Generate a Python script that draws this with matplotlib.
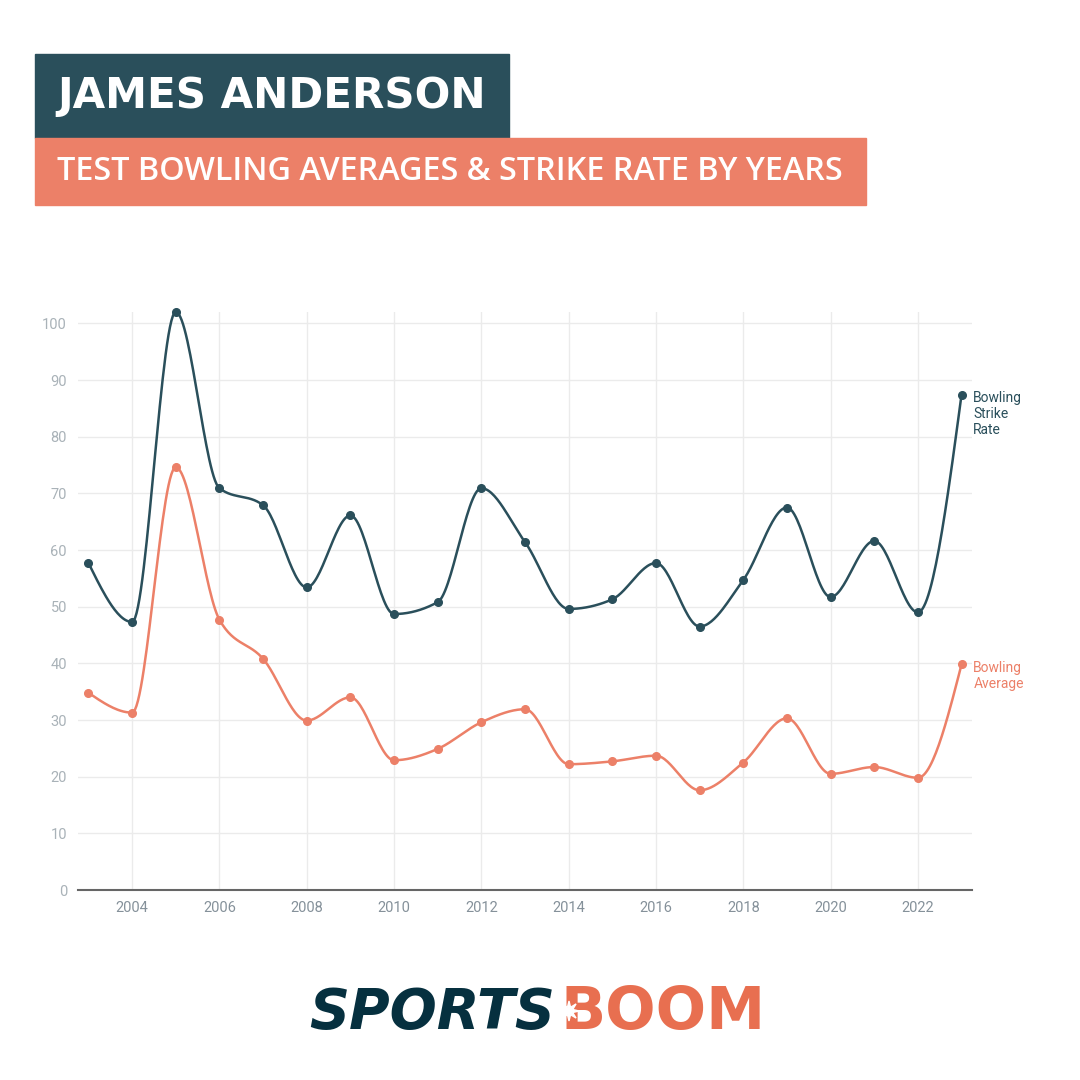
import numpy as np
import matplotlib.pyplot as plt
from matplotlib.patches import Rectangle, Polygon

years = list(range(2003, 2024))
strike_rate = [57.7, 47.3, 102.0, 70.9, 67.9, 53.4, 66.1, 48.7, 50.8, 70.9, 61.4,
               49.6, 51.3, 57.7, 46.5, 54.7, 67.5, 51.7, 61.6, 49.0, 87.4]
bowl_avg = [34.8, 31.3, 74.6, 47.7, 40.8, 29.9, 34.0, 22.9, 24.9, 29.6, 31.9,
            22.2, 22.7, 23.7, 17.6, 22.5, 30.3, 20.5, 21.7, 19.8, 39.8]
x_ticks = list(range(2004, 2023, 2))
y_ticks = list(range(0, 101, 10))

DARK = '#2a4f5b'
SALMON = '#ec8068'
LOGO_DARK = '#06303f'
LOGO_ORANGE = '#e86f50'


def monotone_curve(x, y, n=30):
    # monotone cubic (like d3 curveMonotoneX) just for drawing the smooth line
    x = np.asarray(x, float)
    y = np.asarray(y, float)
    h = np.diff(x)
    s = np.diff(y) / h
    t = np.zeros(len(x))
    for i in range(1, len(x) - 1):
        p = (s[i - 1] * h[i] + s[i] * h[i - 1]) / (h[i - 1] + h[i])
        t[i] = (np.sign(s[i - 1]) + np.sign(s[i])) * min(abs(s[i - 1]), abs(s[i]), 0.5 * abs(p))
    t[0] = (3 * s[0] - t[1]) / 2
    t[-1] = (3 * s[-1] - t[-2]) / 2
    xs, ys = [], []
    for i in range(len(x) - 1):
        u = np.linspace(0, 1, n, endpoint=(i == len(x) - 2))
        h00 = 2 * u**3 - 3 * u**2 + 1
        h10 = u**3 - 2 * u**2 + u
        h01 = -2 * u**3 + 3 * u**2
        h11 = u**3 - u**2
        xs.append(x[i] + u * h[i])
        ys.append(h00 * y[i] + h10 * h[i] * t[i] + h01 * y[i + 1] + h11 * h[i] * t[i + 1])
    return np.concatenate(xs), np.concatenate(ys)


fig = plt.figure(figsize=(10.8, 10.8), dpi=100)
fig.patch.set_facecolor('white')
renderer = fig.canvas.get_renderer()


def fit_text(x, y, s, width_px, **kw):
    # put text at pixel coords (from top-left) and stretch its size to a target width
    t = fig.text(x / 1080, 1 - y / 1080, s, **kw)
    w = t.get_window_extent(renderer).width
    t.set_fontsize(t.get_fontsize() * width_px / w)
    return t


# header boxes
fig.patches.append(Rectangle((35 / 1080, 1 - 138 / 1080), 474 / 1080, 84 / 1080,
                             transform=fig.transFigure, color=DARK, zorder=0))
fig.patches.append(Rectangle((35 / 1080, 1 - 205 / 1080), 831 / 1080, 67 / 1080,
                             transform=fig.transFigure, color=SALMON, zorder=0))
fit_text(57, 96, 'JAMES ANDERSON', 428, color='white', fontsize=31,
         fontfamily='DejaVu Sans', fontweight='bold', va='center', ha='left')
fit_text(57, 172, 'TEST BOWLING AVERAGES & STRIKE RATE BY YEARS', 789,
         color='white', fontsize=21.5, fontfamily='Open Sans', fontweight='semibold',
         va='center', ha='left')

ax = fig.add_axes([78 / 1080, 1 - 890 / 1080, 894 / 1080, 578 / 1080])
ax.set_xlim(2002.76, 2023.24)
ax.set_ylim(0, 102)

for spine in ['top', 'right', 'left']:
    ax.spines[spine].set_visible(False)
ax.spines['bottom'].set_color('#666666')
ax.spines['bottom'].set_linewidth(1.5)

ax.set_xticks(x_ticks)
ax.set_yticks(y_ticks)
ax.tick_params(axis='both', length=0, labelsize=10.5)
ax.tick_params(axis='x', colors='#85919a', pad=8)
ax.tick_params(axis='y', colors='#a9b2b8', pad=8)
for lab in ax.get_xticklabels() + ax.get_yticklabels():
    lab.set_fontfamily('Roboto')
ax.grid(True, color='#ebebeb', linewidth=1)
ax.set_axisbelow(True)

cx, cy = monotone_curve(years, strike_rate)
ax.plot(cx, cy, color=DARK, linewidth=1.8, zorder=3, clip_on=False)
ax.plot(years, strike_rate, 'o', color=DARK, markersize=5.5, zorder=4, clip_on=False)
cx, cy = monotone_curve(years, bowl_avg)
ax.plot(cx, cy, color=SALMON, linewidth=1.8, zorder=3, clip_on=False)
ax.plot(years, bowl_avg, 'o', color=SALMON, markersize=5.5, zorder=4, clip_on=False)

ax.text(2023.27, strike_rate[-1] + 0.6, 'Bowling\nStrike\nRate', color=DARK, fontsize=10,
        fontfamily='Roboto', va='top', ha='left', linespacing=1.15, clip_on=False)
ax.text(2023.27, bowl_avg[-1] + 0.6, 'Bowling\nAverage', color=SALMON, fontsize=10,
        fontfamily='Roboto', va='top', ha='left', linespacing=1.15, clip_on=False)

# logo
fit_text(309, 1013, 'SPORTS', 246, color=LOGO_DARK, fontsize=44,
         fontfamily='DejaVu Sans', fontweight='bold', style='italic', va='center', ha='left')
fit_text(560, 1013, 'BOOM', 205, color=LOGO_ORANGE, fontsize=44,
         fontfamily='DejaVu Sans', fontweight='bold', va='center', ha='left', zorder=3)
ang = np.linspace(0, 2 * np.pi, 17)[:-1]
rad = np.where(np.arange(16) % 2 == 0, 10, 4)
star = np.column_stack([569 + rad * np.cos(ang), 1011 + rad * np.sin(ang)]) / 1080
star[:, 1] = 1 - star[:, 1]
fig.patches.append(Polygon(star, closed=True, transform=fig.transFigure,
                           color='white', zorder=4))

fig.savefig('out.png', dpi=100)
